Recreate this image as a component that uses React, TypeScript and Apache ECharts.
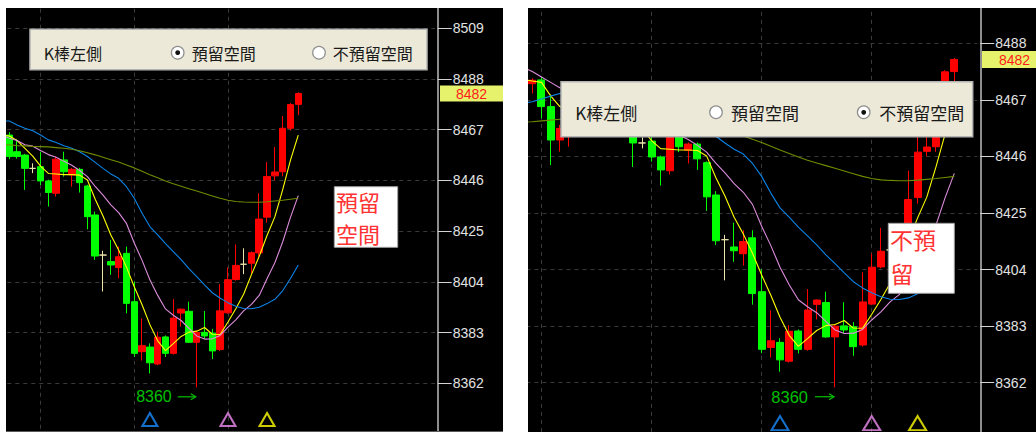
import React, { useEffect, useRef } from 'react';
import * as echarts from 'echarts';

// ---------------- data ----------------
const FIRST_PERIOD = -10; // first period of the arrays below
const OPEN = [null, 8473.0, 8474.4, 8464.5, 8452.1, 8458.0, 8467.0, 8464.0, 8468.5, 8465.0,
  8464.8, 8457.9, 8456.5, 8451.0, 8451.7, 8445.8, 8440.7, 8454.5, 8448.3, 8450.6,
  8443.7, 8431.7, 8415.1, 8412.4, 8409.9, 8415.8, 8395.8, 8375.1, 8377.0, 8370.0,
  8381.2, 8374.4, 8391.1, 8391.8, 8379.0, 8383.1, 8382.8, 8376.0, 8391.2, 8405.0,
  8411.3, 8411.7, 8416.0, 8430.8, 8447.9, 8449.6, 8467.6, 8477.5];
const CLOSE = [null, 8474.3, 8464.5, 8452.1, 8456.4, 8465.0, 8465.4, 8467.0, 8467.0, 8466.7,
  8455.9, 8455.9, 8451.0, 8451.0, 8445.8, 8441.0, 8454.8, 8449.6, 8450.6, 8445.1,
  8431.0, 8414.7, 8415.1, 8411.0, 8414.4, 8395.1, 8374.4, 8377.6, 8370.5, 8381.1,
  8374.4, 8389.0, 8392.7, 8379.0, 8383.0, 8381.6, 8375.4, 8392.0, 8404.9, 8410.8,
  8411.3, 8416.1, 8430.0, 8447.6, 8449.5, 8467.6, 8477.4, 8482.0];
const LOW = [null, 8469.4, 8460.2, 8442.8, 8447.8, 8449.6, 8462.0, 8462.0, 8464.0, 8461.0,
  8454.8, 8455.0, 8442.1, 8449.0, 8444.1, 8435.2, 8439.3, 8447.6, 8443.4, 8441.0,
  8425.8, 8413.1, 8400.0, 8406.9, 8405.5, 8391.0, 8373.0, 8371.4, 8366.1, 8369.5,
  8372.9, 8373.9, 8385.5, 8378.7, 8360.3, 8380.4, 8372.0, 8375.4, 8390.8, 8404.5,
  8407.2, 8407.5, 8413.8, 8428.5, 8446.0, 8447.7, 8466.7, 8473.0];
const HIGH = [null, 8475.0, 8475.5, 8469.0, 8457.7, 8468.0, 8469.0, 8470.0, 8471.0, 8469.0,
  8466.0, 8463.0, 8457.0, 8453.1, 8457.9, 8446.3, 8455.9, 8457.9, 8451.2, 8451.2,
  8444.2, 8433.1, 8416.9, 8421.4, 8418.6, 8418.6, 8404.1, 8388.9, 8378.5, 8383.4,
  8381.8, 8396.8, 8392.9, 8395.8, 8383.8, 8391.9, 8384.5, 8403.0, 8410.0, 8419.5,
  8417.9, 8416.6, 8440.7, 8453.6, 8459.8, 8472.7, 8478.0, 8482.5];

const MA5 = [8474.5, 8474.0, 8473.5, 8468.5, 8464.5, 8463.0, 8463.5, 8464.0, 8464.5, 8464.8,
  8464.4, 8462.5, 8459.3, 8456.1, 8451.9, 8448.9, 8448.7, 8448.4, 8448.4, 8448.2,
  8446.2, 8438.2, 8431.3, 8423.4, 8417.2, 8410.1, 8402.0, 8394.5, 8386.3, 8379.6,
  8375.5, 8378.4, 8381.4, 8383.2, 8383.6, 8385.1, 8382.3, 8382.2, 8387.4, 8392.9,
  8398.9, 8407.0, 8414.6, 8423.2, 8430.9, 8442.1, 8454.4, 8464.8];
const MA10 = [8479.0, 8477.5, 8475.5, 8473.5, 8471.5, 8470.0, 8468.5, 8467.0, 8466.0, 8464.8,
  8463.5, 8462.5, 8460.8, 8460.2, 8458.4, 8456.7, 8455.6, 8453.9, 8452.3, 8450.1,
  8447.6, 8443.5, 8439.9, 8435.9, 8432.7, 8428.2, 8420.1, 8412.9, 8404.9, 8398.4,
  8392.8, 8390.2, 8388.0, 8384.8, 8381.6, 8380.3, 8380.4, 8381.8, 8385.3, 8388.3,
  8392.0, 8394.7, 8398.4, 8405.3, 8411.9, 8420.5, 8430.7, 8439.7];
const MA20 = [8465.8, 8466.3, 8467.3, 8468.4, 8469.4, 8469.7, 8470.0, 8470.2, 8470.4, 8470.6,
  8470.6, 8469.0, 8467.6, 8466.6, 8464.8, 8462.8, 8461.7, 8460.4, 8459.3, 8457.9,
  8455.9, 8453.5, 8451.0, 8448.7, 8446.9, 8443.4, 8438.6, 8432.4, 8426.9, 8423.5,
  8419.8, 8416.5, 8413.2, 8409.5, 8406.2, 8402.8, 8399.5, 8397.2, 8395.4, 8393.9,
  8393.0, 8392.9, 8393.5, 8395.0, 8396.8, 8400.3, 8405.4, 8411.0];
const MA60 = [8458.8, 8458.9, 8459.2, 8459.5, 8459.8, 8460.0, 8460.2, 8460.4, 8460.5, 8460.7,
  8460.8, 8460.4, 8460.3, 8460.1, 8460.0, 8459.9, 8459.6, 8459.3, 8458.9, 8458.3,
  8457.5, 8456.6, 8455.6, 8454.6, 8453.6, 8452.4, 8451.2, 8449.8, 8448.4, 8447.1,
  8445.8, 8444.6, 8443.6, 8442.6, 8441.6, 8440.6, 8439.6, 8438.6, 8437.8, 8437.3,
  8437.1, 8437.0, 8437.0, 8437.2, 8437.5, 8437.8, 8438.2, 8438.6];

const SIGNAL_PERIODS = [18, 28, 33];
const SIGNAL_LEVEL = 8347;
const GRID_PERIODS = [-8, 4, 16, 28];
const LEFT_TICKS = [8362, 8383, 8404, 8425, 8446, 8467, 8488, 8509];
const RIGHT_TICKS = [8362, 8383, 8404, 8425, 8446, 8467, 8488];

// ---------------- styling / layout ----------------
const BASE = 8362;
const TOP_VAL = 8530;
const BOT_VAL = 8320;
const UP = '#ff0000';
const DOWN = '#00ff00';
const DOJI = '#ece4a8';
const MA_COLORS = ['#ffff00', '#dc8cdc', '#0a84e8', '#6f8c00'];
const SIGNAL_COLORS = ['#1a8cff', '#f08cf0', '#ffff00'];
const GRID_LINE = '#3a3a3a';
const AXIS_COLOR = '#bcbcbc';
const CJK = '"Noto Sans CJK TC", "Noto Sans CJK SC", sans-serif';

const PANELS = [
  { lastPeriod: 54, x0: 9.3, catW: 7.81, axisX: 437.7, refVal: 8509, refY: 28.3, ppu: 2.415, barW: 7, ticks: LEFT_TICKS, tri: [15, 13] },
  { lastPeriod: 39, x0: 614.87, catW: 9.174, axisX: 980.3, refVal: 8488, refY: 43.3, ppu: 2.694, barW: 7.5, ticks: RIGHT_TICKS, tri: [17, 14] },
];

function categories(from: number, to: number) {
  const out: string[] = [];
  for (let p = from; p <= to; p++) out.push(String(p));
  return out;
}

function geom(p: any) {
  const n = p.lastPeriod - FIRST_PERIOD + 1;
  const left = p.x0 - (0 - FIRST_PERIOD + 0.5) * p.catW;
  const width = n * p.catW;
  const top = p.refY - (TOP_VAL - p.refVal) * p.ppu;
  const height = (TOP_VAL - BOT_VAL) * p.ppu;
  const helperHeight = (TOP_VAL - BASE) * p.ppu;
  const offset = p.axisX - (left + width);
  return { n, left, width, top, height, helperHeight, offset };
}

function buildOption() {
  const grid: any[] = [];
  const xAxis: any[] = [];
  const yAxis: any[] = [];
  const series: any[] = [];
  PANELS.forEach((p, k) => {
    const g = geom(p);
    grid.push({ left: g.left, top: g.top, width: g.width, height: g.height, containLabel: false, outerBoundsMode: 'none' });
    grid.push({ left: g.left, top: g.top, width: g.width, height: g.helperHeight, containLabel: false, outerBoundsMode: 'none' });
    xAxis.push({ gridIndex: 2 * k, type: 'category', data: categories(FIRST_PERIOD, p.lastPeriod), boundaryGap: true, show: false });
    xAxis.push({ gridIndex: 2 * k + 1, type: 'value', min: 0, max: 1, show: false });
    yAxis.push({
      gridIndex: 2 * k, type: 'value', position: 'right', offset: g.offset,
      min: BOT_VAL - BASE, max: TOP_VAL - BASE, interval: 21,
      axisLine: { show: true, onZero: false, lineStyle: { color: AXIS_COLOR, width: 1.5 } },
      axisTick: { show: true, length: 14, lineStyle: { color: '#d4d4d4', width: 1 } },
      minorTick: { show: false },
      axisLabel: {
        show: true, margin: 15, color: '#e2e2e2', fontSize: 14,
        fontFamily: '"Liberation Sans", Arial, sans-serif',
        formatter: (v: number) => (p.ticks.includes(v + BASE) ? String(v + BASE) : ''),
      },
      splitLine: { show: true, lineStyle: { color: GRID_LINE, type: [4, 4], width: 1 } },
    });
    yAxis.push({
      gridIndex: 2 * k + 1, type: 'value', position: 'right', offset: g.offset,
      min: 0, max: TOP_VAL - BASE, interval: 21,
      axisLine: { show: false }, axisTick: { show: false }, axisLabel: { show: false },
      splitLine: { show: false },
      minorTick: { show: true, splitNumber: 2, length: 7, lineStyle: { color: '#d4d4d4', width: 1 } },
    });

    const xi = 2 * k;
    series.push({
      type: 'candlestick', xAxisIndex: xi, yAxisIndex: xi, barWidth: p.barW, z: 2,
      itemStyle: { color: UP, color0: DOWN, borderColor: UP, borderColor0: DOWN, borderWidth: 1 },
      data: OPEN.map((o, i) => {
        if (o == null) return '-';
        const c = CLOSE[i] as number;
        const item: any = { value: [o - BASE, c - BASE, (LOW[i] as number) - BASE, (HIGH[i] as number) - BASE] };
        if (o === c) item.itemStyle = { color: DOJI, color0: DOJI, borderColor: DOJI, borderColor0: DOJI, borderColorDoji: DOJI };
        return item;
      }),
      markLine: {
        silent: true, z: 1, symbol: ['none', 'none'], label: { show: false },
        lineStyle: { color: GRID_LINE, type: [4, 4], width: 1 },
        emphasis: { disabled: true },
        data: GRID_PERIODS.map((gp) => ({ xAxis: String(gp) })),
      },
    });
    [MA5, MA10, MA20, MA60].forEach((arr, j) => {
      series.push({
        type: 'line', xAxisIndex: xi, yAxisIndex: xi, z: 3, symbol: 'none', showSymbol: false,
        lineStyle: { color: MA_COLORS[j], width: 1.1 }, itemStyle: { color: MA_COLORS[j] },
        data: arr.map((v) => v - BASE),
      });
    });
    series.push({
      type: 'scatter', xAxisIndex: xi, yAxisIndex: xi, z: 4, symbol: 'triangle', symbolSize: p.tri,
      data: SIGNAL_PERIODS.map((s, j) => ({
        value: [String(s), SIGNAL_LEVEL - BASE],
        itemStyle: { color: 'rgba(0,0,0,0)', borderColor: SIGNAL_COLORS[j], borderWidth: 2 },
      })),
    });
  });
  return {
    animation: false,
    backgroundColor: '#000000',
    grid, xAxis, yAxis, series,
  };
}

function txt(text: string, x: number, y: number, size: number, fill: string, align: string, family: string, z = 160) {
  const style: any = { text, fill, fontSize: size, fontFamily: family, textAlign: align, textVerticalAlign: 'middle', align, verticalAlign: 'middle' };
  return { type: 'text', x, y, z, silent: true, style };
}
function box(x: number, y: number, w: number, h: number, fill: string, stroke: string | null, lw: number, z = 150) {
  return { type: 'rect', z, silent: true, shape: { x, y, width: w, height: h }, style: { fill, stroke: stroke || 'none', lineWidth: lw } };
}
function radio(cx: number, cy: number, checked: boolean, z = 160) {
  const els: any[] = [{ type: 'circle', z, silent: true, shape: { cx, cy, r: 6.3 }, style: { fill: '#ffffff', stroke: '#8e8e8e', lineWidth: 1.2 } }];
  if (checked) els.push({ type: 'circle', z: z + 1, silent: true, shape: { cx, cy, r: 2.4 }, style: { fill: '#111111' } });
  return els;
}

export default function App() {
  const ref = useRef<HTMLDivElement>(null);
  useEffect(() => {
    const chart = echarts.init(ref.current as HTMLDivElement, null, { renderer: 'svg' });
    chart.setOption(buildOption() as any);

    const lastIdx = CLOSE.length - 1;
    const last = CLOSE[lastIdx] as number;
    let lowIdx = -1;
    LOW.forEach((v, i) => { if (v != null && (lowIdx < 0 || v < (LOW[lowIdx] as number))) lowIdx = i; });
    const lowVal = LOW[lowIdx] as number;

    const els: any[] = [];
    // page margins (white) around the two black panels
    els.push(box(0, 0, 1036, 8, '#ffffff', null, 0, 300));
    els.push(box(0, 0, 6, 432, '#ffffff', null, 0, 300));
    els.push(box(503, 0, 25, 432, '#ffffff', null, 0, 300));
    els.push({ type: 'line', z: 140, silent: true, shape: { x1: 6, y1: 431.5, x2: 503, y2: 431.5 }, style: { stroke: '#5a5a5a', lineWidth: 1 } });

    PANELS.forEach((p, k) => {
      const yTag = chart.convertToPixel({ yAxisIndex: 2 * k } as any, last - BASE) as number;
      const xLow = chart.convertToPixel({ xAxisIndex: 2 * k } as any, String(lowIdx + FIRST_PERIOD)) as number;
      const yLow = chart.convertToPixel({ yAxisIndex: 2 * k } as any, lowVal - BASE) as number;
      const tagX = k === 0 ? 440 : 982;
      const tagW = k === 0 ? 63 : 54;
      const tagH = k === 0 ? 16 : 17;
      els.push(box(tagX, yTag - tagH / 2, tagW, tagH, '#e6f26c', null, 0, 150));
      els.push(txt(String(Math.round(last)), k === 0 ? 471.5 : 1014.5, yTag + 0.5, 14, '#ff1a1a', 'center', '"Liberation Sans", Arial, sans-serif'));
      const ly = yLow + 9.4;
      const gap = k === 0 ? 25 : 27;
      const arrowLen = k === 0 ? 19 : 20;
      els.push(txt(String(Math.round(lowVal)), xLow - gap, ly, k === 0 ? 16 : 16.5, '#00c000', 'right', '"Liberation Sans", Arial, sans-serif'));
      els.push({ type: 'line', z: 160, silent: true, shape: { x1: xLow - arrowLen, y1: ly, x2: xLow - 1, y2: ly }, style: { stroke: '#00c000', lineWidth: 1.2 } });
      els.push({ type: 'polyline', z: 160, silent: true, shape: { points: [[xLow - 6, ly - 3], [xLow - 1, ly], [xLow - 6, ly + 3]] }, style: { stroke: '#00c000', fill: 'none', lineWidth: 1.2 } });
    });

    // left panel: option box (預留空間 selected)
    els.push(box(30, 29.3, 397, 40.4, '#ece9d8', '#b4b4b4', 1.5));
    els.push(txt('K棒左側', 43.7, 52.7, 16, '#1a1a1a', 'left', CJK));
    els.push(...radio(177.7, 52.7, true));
    els.push(txt('預留空間', 191.7, 52.7, 16, '#1a1a1a', 'left', CJK));
    els.push(...radio(319, 52.7, false));
    els.push(txt('不預留空間', 332.7, 52.7, 16, '#1a1a1a', 'left', CJK));
    // left annotation
    els.push(box(334.3, 186.7, 63.4, 60.6, '#ffffff', '#a0a0a0', 1));
    els.push(txt('預留', 336, 200.6, 22, '#ff3333', 'left', CJK));
    els.push(txt('空間', 336, 232.6, 22, '#ff3333', 'left', CJK));

    // right panel: option box (不預留空間 selected)
    els.push(box(561, 81.7, 411.7, 55, '#ece9d8', '#b4b4b4', 1.5));
    els.push(txt('K棒左側', 575.3, 112.3, 17, '#1a1a1a', 'left', CJK));
    els.push(...radio(716, 112.3, false));
    els.push(txt('預留空間', 731, 112.3, 17, '#1a1a1a', 'left', CJK));
    els.push(...radio(863.7, 112.3, true));
    els.push(txt('不預留空間', 879.3, 112.3, 17, '#1a1a1a', 'left', CJK));
    // right annotation
    els.push(box(888.3, 223.3, 66, 70, '#ffffff', '#a0a0a0', 1));
    els.push(txt('不預', 890, 239.0, 23, '#ff3333', 'left', CJK));
    els.push(txt('留', 890.5, 273.0, 23, '#ff3333', 'left', CJK));

    chart.setOption({ graphic: { elements: els } } as any);
    return () => chart.dispose();
  }, []);
  return <div ref={ref} style={{ position: 'fixed', left: 0, top: 0, width: 1036, height: 432 }} />;
}
